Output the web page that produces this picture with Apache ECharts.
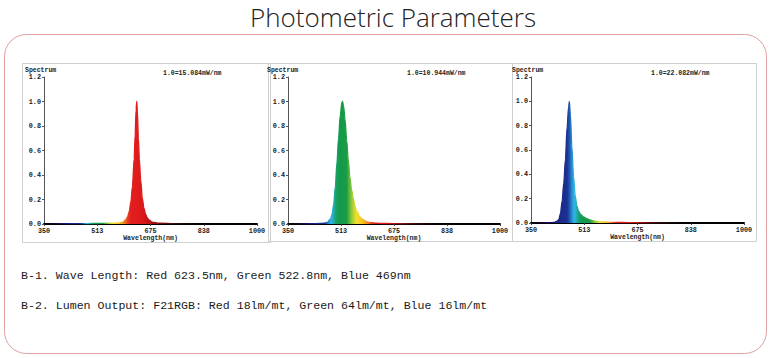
<!DOCTYPE html>
<html>
<head>
<meta charset="utf-8">
<script src="https://cdn.jsdelivr.net/npm/echarts@6/dist/echarts.min.js"></script>
<style>
html,body{margin:0;padding:0;background:#fff;}
#chart{width:772px;height:358px;}
</style>
</head>
<body>
<div id="chart"></div>
<script>
// ---- data ----
const pageTitle = 'Photometric Parameters';
const wavelengthTicks = [350, 512.5, 675, 837.5, 1000];
const spectrumTicks = [0, 0.2, 0.4, 0.6, 0.8, 1.0, 1.2];
const scaleNotes = ['1.0=15.084mW/nm', '1.0=10.944mW/nm', '1.0=22.082mW/nm'];
const infoLines = [
  'B-1. Wave Length: Red 623.5nm, Green 522.8nm, Blue 469nm',
  'B-2. Lumen Output: F21RGB: Red 18lm/mt, Green 64lm/mt, Blue 16lm/mt'
];

const redWl  = [350, 450, 500, 560, 580, 590, 600, 605, 610, 615, 620, 625, 628, 631, 633, 635, 638, 641, 645, 650, 655, 660, 665, 670, 680, 700, 750, 850, 1000];
const redVal = [0.003, 0.003, 0.004, 0.006, 0.008, 0.014, 0.035, 0.06, 0.1, 0.18, 0.31, 0.53, 0.72, 0.93, 1.0, 0.92, 0.7, 0.53, 0.36, 0.21, 0.13, 0.08, 0.05, 0.033, 0.016, 0.006, 0.003, 0.002, 0.002];

const greenWl  = [350, 420, 450, 460, 470, 480, 485, 490, 495, 500, 505, 510, 515, 517, 520, 525, 530, 535, 540, 545, 550, 555, 560, 570, 580, 590, 600, 620, 650, 700, 800, 1000];
const greenVal = [0.001, 0.002, 0.004, 0.006, 0.012, 0.04, 0.08, 0.16, 0.3, 0.5, 0.7, 0.88, 0.99, 1.0, 0.97, 0.85, 0.68, 0.52, 0.38, 0.28, 0.21, 0.15, 0.11, 0.06, 0.035, 0.02, 0.012, 0.007, 0.004, 0.002, 0.001, 0.001];

const blueWl  = [350, 400, 420, 430, 435, 440, 445, 450, 455, 460, 465, 467, 470, 475, 480, 485, 490, 495, 500, 510, 520, 530, 540, 560, 600, 650, 700, 800, 1000];
const blueVal = [0.001, 0.002, 0.005, 0.015, 0.03, 0.08, 0.18, 0.33, 0.52, 0.78, 0.96, 1.0, 0.9, 0.62, 0.38, 0.22, 0.14, 0.1, 0.075, 0.05, 0.035, 0.025, 0.018, 0.01, 0.005, 0.003, 0.002, 0.001, 0.001];

// ---- styles ----
const spectralStops = [
  [350, '#000000'], [390, '#1a0a40'], [420, '#1a1a80'], [440, '#1a2a8c'], [460, '#1c3090'],
  [468, '#1f5cb0'], [475, '#2490d4'], [482, '#35b5e5'], [490, '#22aab0'], [498, '#18a060'],
  [510, '#13994a'], [530, '#1a9c45'], [540, '#6cbc3a'], [550, '#b8d030'], [560, '#f0e030'],
  [580, '#f5c020'], [595, '#f08020'], [605, '#e84020'], [615, '#e41e1e'], [650, '#dc1a1a'],
  [680, '#b01010'], [720, '#601010'], [770, '#200808'], [820, '#000000'], [1000, '#000000']
];
function spectralGradient() {
  return new echarts.graphic.LinearGradient(0, 0, 1, 0,
    spectralStops.map(s => ({ offset: (s[0] - 350) / 650, color: s[1] })));
}

const monoFont = 'Liberation Mono';
const gridsPos = [
  { left: 44, top: 77, width: 213, height: 147 },
  { left: 288, top: 77, width: 212, height: 147 },
  { left: 531, top: 77, width: 213, height: 146 }
];
const framePos = [
  { x: 22.5, y: 63.5, width: 248, height: 179 },
  { x: 268.5, y: 63.5, width: 244, height: 178 },
  { x: 512.5, y: 63.5, width: 244, height: 178 }
];
const spectrumLabelX = [25, 267, 512];
const noteX = [163, 407, 651];

const seriesSets = [[redWl, redVal], [greenWl, greenVal], [blueWl, blueVal]];

const xAxes = gridsPos.map((g, i) => ({
  type: 'value', gridIndex: i, min: 350, max: 1000,
  name: 'Wavelength(nm)', nameLocation: 'middle', nameGap: 11,
  nameTextStyle: { fontFamily: monoFont, fontWeight: 'bold', fontSize: 6.5, color: '#222' },
  axisLine: { show: true, onZero: false, lineStyle: { color: '#000', width: 2 } },
  axisTick: { show: true, length: 2, customValues: wavelengthTicks, lineStyle: { color: '#444' } },
  axisLabel: { customValues: wavelengthTicks, margin: 3, fontFamily: monoFont, fontWeight: 'bold', fontSize: 6.8, color: '#222',
    formatter: v => String(Math.round(v)) },
  splitLine: { show: false }
}));
const yAxes = gridsPos.map((g, i) => ({
  type: 'value', gridIndex: i, min: 0, max: 1.2, interval: 0.2,
  axisLine: { show: true, lineStyle: { color: '#555', width: 1 } },
  axisTick: { show: true, length: 2, lineStyle: { color: '#555' } },
  axisLabel: { margin: 3, fontFamily: monoFont, fontWeight: 'bold', fontSize: 6.8, color: '#222',
    formatter: v => v.toFixed(1) },
  splitLine: { show: false }
}));

const series = seriesSets.map((s, i) => ({
  type: 'line', xAxisIndex: i, yAxisIndex: i,
  data: s[0].map((w, k) => [w, s[1][k]]),
  showSymbol: false, smooth: 0.3, smoothMonotone: 'x',
  lineStyle: { width: 1.3, color: spectralGradient() },
  areaStyle: { color: spectralGradient(), opacity: 1 },
  z: 3
}));

const graphics = [
  { type: 'rect', shape: { x: 4.5, y: 34.5, width: 762, height: 319, r: 22 },
    style: { fill: 'none', stroke: '#e2a0a0', lineWidth: 1 }, z: 0 },
  { type: 'text', x: 393, y: 17, style: { text: pageTitle, fontFamily: 'Open Sans', fontWeight: 300, fontSize: 26, fill: '#222', align: 'center', verticalAlign: 'middle' } }
];
framePos.forEach(f => graphics.push({ type: 'rect', shape: f, style: { fill: 'none', stroke: '#cfcfcf', lineWidth: 1 }, z: 0 }));
spectrumLabelX.forEach(x => graphics.push({ type: 'text', x: x, y: 70.5,
  style: { text: 'Spectrum', fontFamily: monoFont, fontWeight: 'bold', fontSize: 6.5, fill: '#222', verticalAlign: 'middle' } }));
scaleNotes.forEach((t, i) => graphics.push({ type: 'text', x: noteX[i], y: 73,
  style: { text: t, fontFamily: monoFont, fontWeight: 'bold', fontSize: 6.5, fill: '#222', verticalAlign: 'middle' } }));
infoLines.forEach((t, i) => graphics.push({ type: 'text', x: 21, y: 275.5 + i * 30,
  style: { text: t, fontFamily: 'Liberation Mono', fontSize: 11.6, fill: '#1a1a1a', verticalAlign: 'middle' } }));

const chart = echarts.init(document.getElementById('chart'), null, { renderer: 'svg', width: 772, height: 358 });
chart.setOption({
  animation: false,
  backgroundColor: '#fff',
  grid: gridsPos,
  xAxis: xAxes,
  yAxis: yAxes,
  series: series,
  graphic: graphics
});
</script>
</body>
</html>
